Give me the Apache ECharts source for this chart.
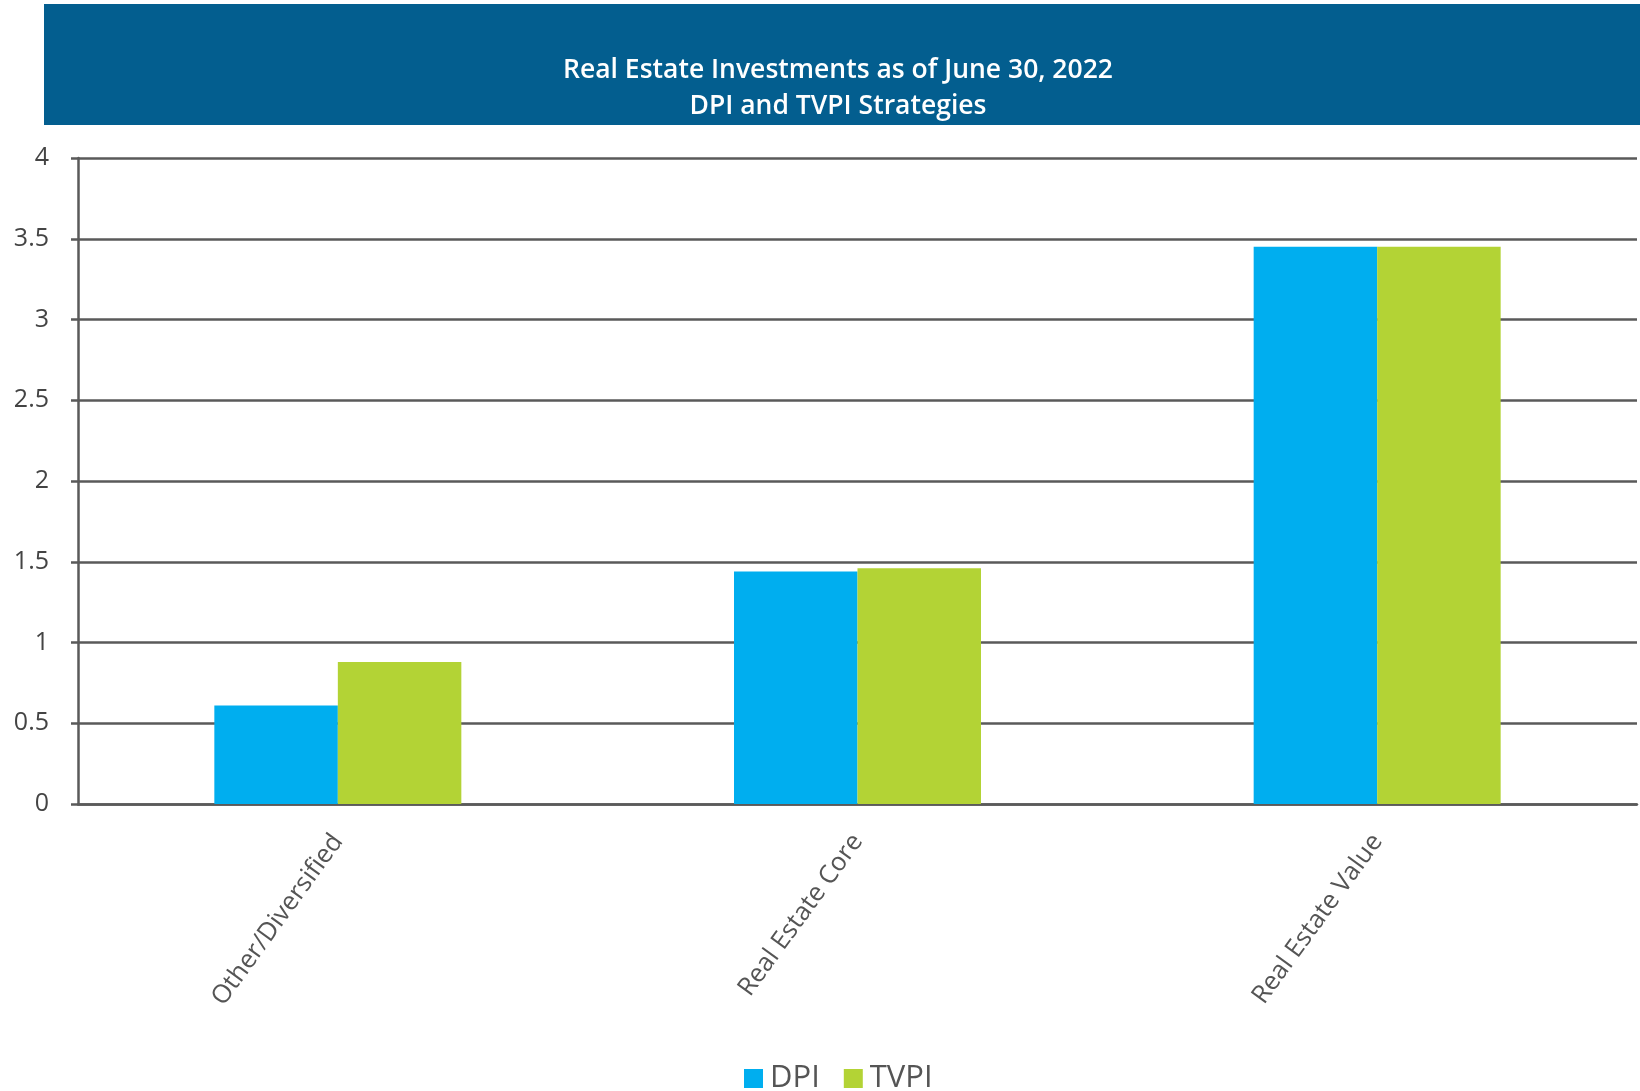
<!DOCTYPE html>
<html>
<head>
<meta charset="utf-8">
<script src="https://cdn.jsdelivr.net/npm/echarts@6/dist/echarts.min.js"></script>
<style>
html,body{margin:0;padding:0;background:#fff;}
#chart{width:1640px;height:1091px;}
</style>
</head>
<body>
<div id="chart"></div>
<script>
const categories = ["Other/Diversified", "Real Estate Core", "Real Estate Value"];
const dpiValues = [0.61, 1.44, 3.45];
const tvpiValues = [0.88, 1.46, 3.45];
const yTicks = [0, 0.5, 1, 1.5, 2, 2.5, 3, 3.5, 4];
const titleLines = ["Real Estate Investments as of June 30, 2022", "DPI and TVPI Strategies"];

const FONT = "'Open Sans', 'Noto Sans', sans-serif";
const GRID_COLOR = "#5a5a5a";
const chart = echarts.init(document.getElementById('chart'));
chart.setOption({
  backgroundColor: '#ffffff',
  animation: false,
  graphic: [{
    type: 'rect',
    shape: { x: 44, y: 4, width: 1596, height: 121 },
    style: { fill: '#035E8F' },
    z: 0
  }],
  title: {
    text: titleLines.join('\n'),
    left: 833,
    top: 47,
    textAlign: 'center',
    textStyle: {
      color: '#ffffff',
      fontFamily: FONT,
      fontWeight: 600,
      fontSize: 26.5,
      lineHeight: 36
    },
    z: 10
  },
  legend: {
    top: 1058,
    left: 739,
    itemWidth: 19,
    itemHeight: 19,
    itemGap: 24,
    icon: 'rect',
    textStyle: { fontFamily: FONT, fontSize: 31, color: '#555555', padding: [0, 0, 0, 2] },
    data: ['DPI', 'TVPI']
  },
  grid: { left: 78, right: 3, top: 158, bottom: 287, containLabel: false },
  xAxis: {
    type: 'category',
    data: categories,
    axisLine: { show: true, lineStyle: { color: GRID_COLOR, width: 2.5 } },
    axisTick: { show: false },
    axisLabel: {
      rotate: 54,
      margin: 33,
      fontFamily: FONT,
      fontSize: 25.5,
      color: '#555555'
    }
  },
  yAxis: {
    type: 'value',
    min: yTicks[0],
    max: yTicks[yTicks.length - 1],
    interval: 0.5,
    axisLine: { show: true, lineStyle: { color: GRID_COLOR, width: 2.5 } },
    axisTick: { show: true, length: 7, lineStyle: { color: GRID_COLOR, width: 2.5 } },
    splitLine: { show: true, lineStyle: { color: GRID_COLOR, width: 2.5 } },
    axisLabel: {
      margin: 29,
      fontFamily: FONT,
      fontSize: 25,
      color: '#444444'
    }
  },
  series: [
    {
      name: 'DPI',
      type: 'bar',
      data: dpiValues,
      barWidth: 123.5,
      barGap: '0%',
      itemStyle: { color: '#00AEEF' },
      z: 3
    },
    {
      name: 'TVPI',
      type: 'bar',
      data: tvpiValues,
      barWidth: 123.5,
      barGap: '0%',
      itemStyle: { color: '#B3D335' },
      z: 3
    }
  ]
});
</script>
</body>
</html>
